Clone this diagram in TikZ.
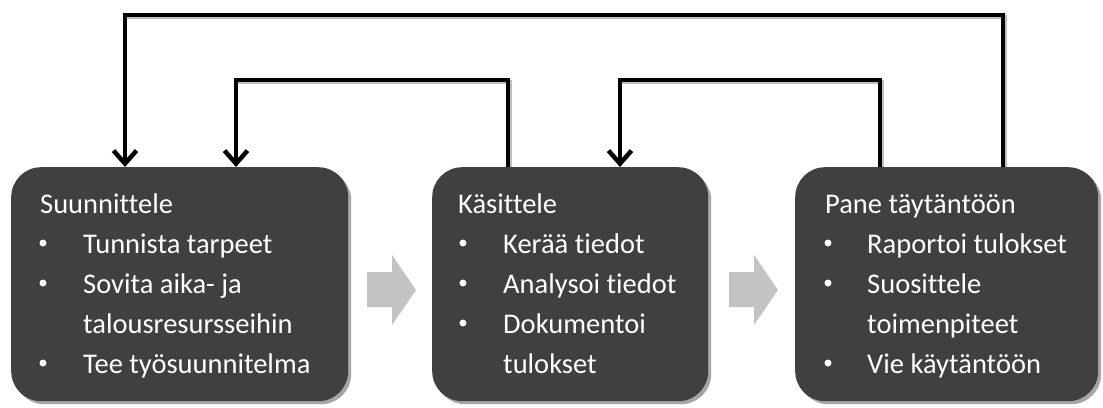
\documentclass[tikz,border=0pt]{standalone}
\usepackage{fontspec}
\setmainfont{Carlito}[Ligatures={NoCommon}]
\usetikzlibrary{arrows.meta}
\definecolor{boxgray}{HTML}{404040}
\definecolor{chev}{HTML}{C3C3C3}
\tikzset{
  box/.style={fill=boxgray, rounded corners=30pt, inner sep=0pt, anchor=north west},
  boxshadow/.style={fill=black!35, rounded corners=30pt, inner sep=0pt, anchor=north west},
  txt/.style={text=white, font=\fontsize{28.5}{34}\selectfont, anchor=base west, inner sep=0pt},
  bul/.style={circle, fill=white, inner sep=0pt, minimum size=7pt},
  fb/.style={line width=4.5pt, -{Straight Barb[length=13pt,width=23pt]}},
  fbshadow/.style={line width=4.5pt, draw=black!25},
  chevron/.style={fill=chev, draw=none}
}
\begin{document}
\begin{tikzpicture}[x=1pt,y=-1pt]
\useasboundingbox (0,0) rectangle (1103,407);
% shadows
\node[boxshadow, minimum width=337pt, minimum height=234pt] at (14,170) {};
\node[boxshadow, minimum width=276pt, minimum height=234pt] at (435,170) {};
\node[boxshadow, minimum width=303pt, minimum height=234pt] at (798,170) {};
% boxes
\node[box, minimum width=337pt, minimum height=234pt] (b1) at (11,167) {};
\node[box, minimum width=276pt, minimum height=234pt] (b2) at (432,167) {};
\node[box, minimum width=303pt, minimum height=234pt] (b3) at (795,167) {};

% box 1 text
\node[txt] (t1) at (40,213) {Suunnittele};
\node[bul] (t1a) at (43,243) {};
\node[txt] (t1b) at (83,253) {Tunnista tarpeet};
\node[bul] (t1c) at (43,283) {};
\node[txt] (t1d) at (83,293) {Sovita aika- ja};
\node[txt] (t1e) at (83,333) {talousresursseihin};
\node[bul] (t1f) at (43,363) {};
\node[txt] (t1g) at (83,373) {Tee työsuunnitelma};

% box 2 text
\node[txt] (t2) at (458,213) {Käsittele};
\node[bul] (t2a) at (463,243) {};
\node[txt] (t2b) at (503,253) {Kerää tiedot};
\node[bul] (t2c) at (463,283) {};
\node[txt] (t2d) at (503,293) {Analysoi tiedot};
\node[bul] (t2e) at (463,323) {};
\node[txt] (t2f) at (503,333) {Dokumentoi};
\node[txt] (t2g) at (503,373) {tulokset};

% box 3 text
\node[txt] (t3) at (825,213) {Pane täytäntöön};
\node[bul] (t3a) at (828,243) {};
\node[txt] (t3b) at (867,253) {Raportoi tulokset};
\node[bul] (t3c) at (828,283) {};
\node[txt] (t3d) at (867,293) {Suosittele};
\node[txt] (t3e) at (867,333) {toimenpiteet};
\node[bul] (t3f) at (828,363) {};
\node[txt] (t3g) at (867,373) {Vie käytäntöön};

% chevrons
\fill[chevron] (367,272) -- (392,272) -- (392,255) -- (416,290) -- (392,325) -- (392,307) -- (367,307) -- cycle;
\fill[chevron] (729,272) -- (754,272) -- (754,255) -- (778,290) -- (754,325) -- (754,307) -- (729,307) -- cycle;

% feedback arrow shadows
\draw[fbshadow] (b3.north -| 1005,0) -- (1005,17) -- (124,17);
\draw[fbshadow] (b2.north -| 510,0) -- (510,82) -- (238,82);
\draw[fbshadow] (b3.north -| 882,0) -- (882,82) -- (622,82);
% feedback arrows
\draw[fb] (b3.north -| 1003,0) -- (1003,15) -- (125,15) -- (b1.north -| 125,0);
\draw[fb] (b2.north -| 508,0) -- (508,80) -- (236,80) -- (b1.north -| 236,0);
\draw[fb] (b3.north -| 880,0) -- (880,80) -- (620,80) -- (b2.north -| 620,0);
\end{tikzpicture}
\end{document}
